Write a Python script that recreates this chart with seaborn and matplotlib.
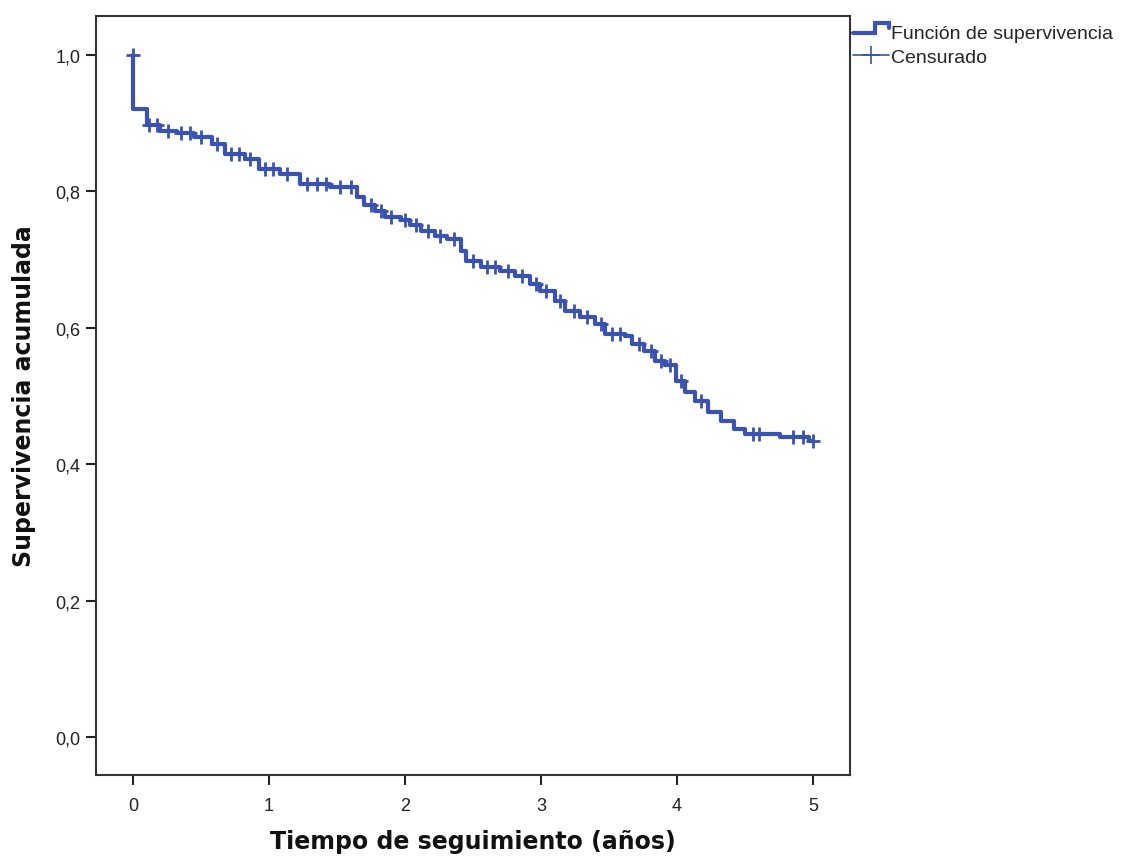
import numpy as np
import pandas as pd
import matplotlib
matplotlib.use("Agg")
import matplotlib.pyplot as plt
from matplotlib.lines import Line2D
from matplotlib.legend_handler import HandlerBase
import seaborn as sns

# Kaplan-Meier step function (time in years, cumulative survival)
event_times = [0.0, 0.0, 0.10, 0.20, 0.32, 0.45, 0.58, 0.68, 0.82, 0.93, 1.08, 1.23, 1.45,
               1.65, 1.70, 1.78, 1.85, 1.97, 2.04, 2.12, 2.22, 2.31, 2.41, 2.45, 2.56,
               2.70, 2.81, 2.92, 2.99, 3.10, 3.18, 3.29, 3.40, 3.47, 3.62, 3.67, 3.76,
               3.84, 3.91, 3.99, 4.06, 4.13, 4.23, 4.32, 4.42, 4.50, 4.76, 4.97]
survival    = [1.000, 0.921, 0.897, 0.889, 0.885, 0.880, 0.870, 0.855, 0.848, 0.833, 0.825,
               0.810, 0.806, 0.792, 0.780, 0.771, 0.762, 0.758, 0.750, 0.742, 0.735,
               0.730, 0.713, 0.698, 0.689, 0.683, 0.676, 0.664, 0.654, 0.639, 0.625,
               0.616, 0.606, 0.591, 0.588, 0.576, 0.566, 0.551, 0.545, 0.522, 0.506,
               0.493, 0.477, 0.463, 0.452, 0.444, 0.440, 0.434]
follow_up_end = 5.0

censor_times = [0.0, 0.12, 0.18, 0.26, 0.35, 0.42, 0.50, 0.62, 0.72, 0.78, 0.86, 0.97, 1.03,
                1.13, 1.28, 1.35, 1.42, 1.52, 1.60, 1.75, 1.82, 1.90, 2.00, 2.08, 2.17,
                2.26, 2.36, 2.50, 2.60, 2.66, 2.76, 2.86, 2.96, 3.04, 3.14, 3.24, 3.34,
                3.44, 3.52, 3.58, 3.72, 3.81, 3.88, 3.95, 4.03, 4.18, 4.56, 4.60, 4.85,
                4.93, 5.0]

x_ticks = [0, 1, 2, 3, 4, 5]
y_ticks = [0.0, 0.2, 0.4, 0.6, 0.8, 1.0]
y_tick_labels = ["0,0", "0,2", "0,4", "0,6", "0,8", "1,0"]

df = pd.DataFrame({"t": event_times + [follow_up_end],
                   "S": survival + [survival[-1]]})
idx = np.clip(np.searchsorted(np.array(event_times), np.array(censor_times), side="left") - 1,
              0, None)
cens = pd.DataFrame({"t": censor_times, "S": np.array(survival)[idx]})

color = "#3a53b2"

sns.set_style("ticks")
plt.rcParams["font.family"] = ["Liberation Sans", "DejaVu Sans"]

fig = plt.figure(figsize=(11.25, 8.62), dpi=100)
ax = fig.add_axes([96 / 1125, 1 - 776 / 862, (850 - 96) / 1125, (776 - 17) / 862])

sns.lineplot(data=df, x="t", y="S", ax=ax, color=color, linewidth=3.0,
             drawstyle="steps-post", estimator=None, sort=False)
sns.scatterplot(data=cens, x="t", y="S", ax=ax, marker="+", color=color,
                s=110, linewidth=2.0, zorder=3)

ax.set_xlim(-0.272, 5.272)
ax.set_ylim(-0.0557, 1.057)
ax.set_xticks(x_ticks)
ax.set_xticklabels([str(v) for v in x_ticks])
ax.set_yticks(y_ticks)
ax.set_yticklabels(y_tick_labels)
ax.tick_params(axis="both", direction="out", length=7, width=1.5, labelsize=13,
               colors="#222222")
ax.tick_params(axis="x", pad=9)
ax.tick_params(axis="y", pad=4)
for sp in ax.spines.values():
    sp.set_visible(True)
    sp.set_linewidth(1.5)
    sp.set_color("#333333")

ax.set_xlabel("Tiempo de seguimiento (años)", fontsize=17, fontweight="bold",
              family="DejaVu Sans", labelpad=11, color="#111111")
ax.set_ylabel("Supervivencia acumulada", fontsize=17, fontweight="bold",
              family="DejaVu Sans", labelpad=14, color="#111111")


class HandlerStep(HandlerBase):
    def create_artists(self, legend, orig_handle, xdescent, ydescent, width, height,
                       fontsize, trans):
        xs = np.array([0, 0.6, 0.6, 1.0, 1.0]) * width - xdescent
        ys = np.array([0.35, 0.35, 1.05, 1.05, 0.7]) * height - ydescent
        ln = Line2D(xs, ys, color=orig_handle.get_color(),
                    linewidth=orig_handle.get_linewidth(), transform=trans,
                    solid_joinstyle="miter")
        return [ln]


surv_handle = Line2D([0], [0], color=color, linewidth=3.0)
cens_handle = Line2D([0], [0], color=color, linewidth=1.2, marker="+", markersize=13,
                     markeredgewidth=1.2)
fig.legend([surv_handle, cens_handle], ["Función de supervivencia", "Censurado"],
           loc="upper left", bbox_to_anchor=(853 / 1125, 1 - 25 / 862), frameon=False,
           fontsize=14, handlelength=1.85, handletextpad=0.1, labelspacing=0.36,
           borderpad=0.0, borderaxespad=0.0,
           handler_map={surv_handle: HandlerStep()})

fig.savefig("out.png", dpi=100, facecolor="white")
